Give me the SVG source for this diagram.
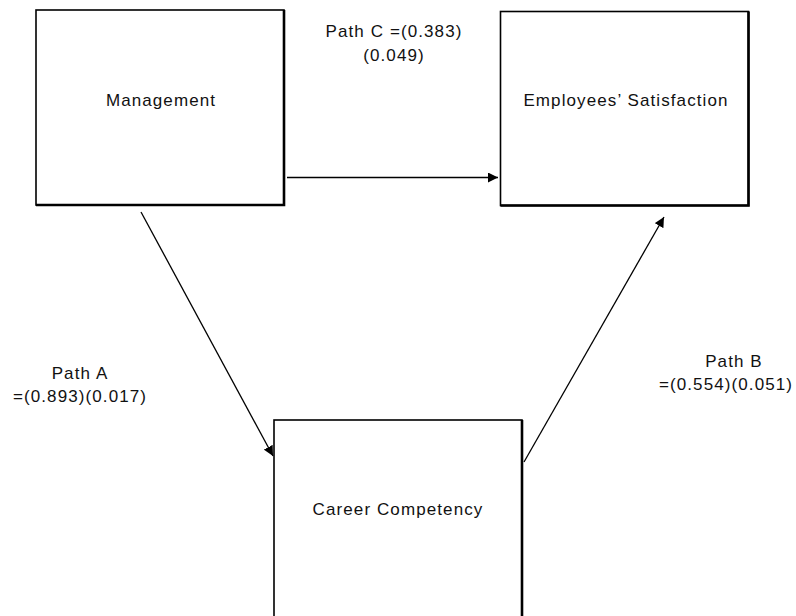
<svg xmlns="http://www.w3.org/2000/svg" width="796" height="616" viewBox="0 0 796 616">
  <style>
    .box { fill: #ffffff; stroke: #000000; stroke-width: 1.6; }
    .shade { fill: none; stroke: #000000; stroke-width: 2.6; }
    .label { font-family: "Liberation Sans", Arial, sans-serif; font-size: 17px; letter-spacing: 1.1px; fill: #111111; text-anchor: middle; }
    .edge { stroke: #000000; stroke-width: 1.3; fill: none; marker-end: url(#arrow); }
  </style>
  <defs>
    <marker id="arrow" viewBox="0 0 10 10" refX="10" refY="5" markerWidth="10" markerHeight="10" markerUnits="userSpaceOnUse" orient="auto">
      <path d="M0,0 L10,5 L0,10 z" fill="#000000"/>
    </marker>
  </defs>
  <rect width="796" height="616" fill="#ffffff"/>

  <g id="management">
    <rect class="box" x="36" y="10" width="248" height="195"/>
    <polyline class="shade" points="284,10 284,205 36,205"/>
    <text class="label" x="161" y="106">Management</text>
  </g>

  <g id="satisfaction">
    <rect class="box" x="500.5" y="11.5" width="248" height="194"/>
    <polyline class="shade" points="748.5,11.5 748.5,205.5 500.5,205.5"/>
    <text class="label" x="626" y="106">Employees’ Satisfaction</text>
  </g>

  <g id="competency">
    <rect class="box" x="274" y="420" width="248" height="210"/>
    <polyline class="shade" points="522,420 522,630"/>
    <text class="label" x="398" y="515">Career Competency</text>
  </g>

  <g id="connectors">
    <line class="edge" x1="287" y1="177.5" x2="498" y2="177.5"/>
    <line class="edge" x1="141" y1="212" x2="273" y2="456"/>
    <line class="edge" x1="524" y1="462" x2="664" y2="217"/>
  </g>

  <g id="path-labels">
    <text class="label" x="394" y="37">Path C =(0.383)</text>
    <text class="label" x="394" y="61">(0.049)</text>
    <text class="label" x="80" y="379">Path A</text>
    <text class="label" x="80" y="402">=(0.893)(0.017)</text>
    <text class="label" x="734" y="367">Path B</text>
    <text class="label" x="726" y="390">=(0.554)(0.051)</text>
  </g>
</svg>
